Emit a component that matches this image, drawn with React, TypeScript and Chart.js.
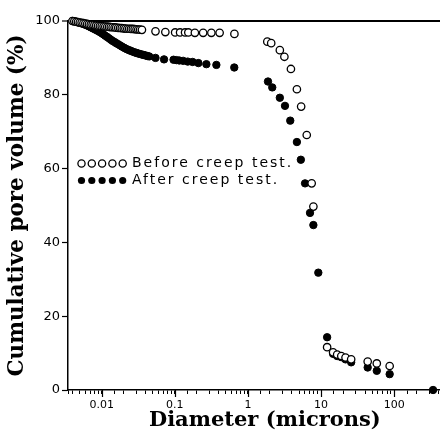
import React, { useEffect, useRef } from "react";
import { Chart, registerables } from "chart.js";

Chart.register(...registerables);

// Before creep test (open circles): diameter in microns, cumulative pore volume in %
const beforeDiameter = [
  0.00398, 0.00422, 0.00447, 0.00473, 0.00501, 0.00531, 0.00562, 0.00596, 0.00631, 0.00668,
  0.00708, 0.0075, 0.00794, 0.00841, 0.00891, 0.00944, 0.01, 0.0106, 0.0112, 0.0119,
  0.0126, 0.0133, 0.0141, 0.015, 0.0158, 0.0168, 0.0178, 0.0188, 0.02, 0.0211,
  0.0224, 0.0237, 0.0251, 0.0266, 0.0282, 0.0299, 0.0316, 0.0335, 0.0355,
  0.0544, 0.0742, 0.101, 0.118, 0.138, 0.153, 0.188, 0.244, 0.316, 0.41, 0.653,
  1.84, 2.08, 2.73, 3.15, 3.87, 4.67, 5.34, 6.37, 7.44, 7.85,
  12.1, 14.6, 16.6, 18.9, 21.6, 25.8, 43.4, 57.8, 86.7,
];
const beforeVolume = [
  100, 99.9, 99.8, 99.7, 99.6, 99.5, 99.4, 99.3, 99.2, 99.1,
  99.0, 98.95, 98.9, 98.8, 98.7, 98.65, 98.6, 98.55, 98.5, 98.45,
  98.4, 98.35, 98.3, 98.25, 98.2, 98.15, 98.1, 98.05, 98.0, 97.95,
  97.9, 97.9, 97.85, 97.85, 97.8, 97.75, 97.7, 97.65, 97.6,
  97.2, 97.0, 96.9, 96.9, 96.9, 96.9, 96.8, 96.8, 96.8, 96.8, 96.5,
  94.4, 94.0, 92.1, 90.3, 87.0, 81.5, 76.8, 69.1, 56.0, 49.7,
  11.6, 10.2, 9.6, 9.2, 8.8, 8.3, 7.7, 7.2, 6.5,
];

// After creep test (filled circles)
const afterDiameter = [
  0.00398, 0.00422, 0.00447, 0.00473, 0.00501, 0.00531, 0.00562, 0.00596, 0.00631, 0.00668,
  0.00708, 0.0075, 0.00794, 0.00841, 0.00891, 0.00944, 0.01, 0.0106, 0.0112, 0.0119,
  0.0126, 0.0133, 0.0141, 0.015, 0.0158, 0.0168, 0.0178, 0.0188, 0.02, 0.0211,
  0.0224, 0.0237, 0.0251, 0.0266, 0.0282, 0.0299, 0.0316, 0.0335, 0.0355, 0.0376,
  0.0398, 0.0422, 0.0447, 0.0544, 0.0712, 0.096, 0.105, 0.115, 0.13, 0.15, 0.175,
  0.21, 0.27, 0.37, 0.65, 1.88, 2.15, 2.73, 3.21, 3.79, 4.67, 5.29, 6.04,
  7.06, 7.85, 9.17, 12.1, 14.6, 16.6, 18.9, 21.6, 25.8, 43.4, 57.8, 86.7, 340,
];
const afterVolume = [
  100, 99.9, 99.8, 99.65, 99.5, 99.35, 99.2, 99.0, 98.8, 98.55,
  98.3, 98.05, 97.8, 97.55, 97.3, 97.0, 96.7, 96.35, 96.0, 95.65,
  95.3, 94.95, 94.6, 94.3, 94.0, 93.7, 93.4, 93.1, 92.8, 92.55,
  92.3, 92.1, 91.9, 91.7, 91.5, 91.35, 91.2, 91.05, 90.9, 90.8,
  90.65, 90.5, 90.4, 90.0, 89.6, 89.5, 89.4, 89.3, 89.2, 89.0, 88.9,
  88.6, 88.3, 88.1, 87.4, 83.6, 82.0, 79.2, 77.0, 73.0, 67.2, 62.4, 56.0,
  48.0, 44.7, 31.8, 14.3, 9.8, 9.2, 8.9, 8.3, 7.5, 6.1, 5.2, 4.3, 0,
];

const xTickLabels = [0.01, 0.1, 1, 10, 100];
const yTickValues = [0, 20, 40, 60, 80, 100];
const legendLabels = ["Before creep test.", "After creep test."];
const xTitle = "Diameter (microns)";
const yTitle = "Cumulative pore volume (%)";
const xRange = [0.00346, 838];
const yRange = [0, 100];

const isDecade = (v: number) => {
  const l = Math.log10(v);
  return Math.abs(l - Math.round(l)) < 1e-9;
};

const legendPlugin = {
  id: "customLegend",
  afterDraw(chart: any) {
    const ctx = chart.ctx;
    const left = chart.chartArea.left;
    ctx.save();
    const rows = [
      { y: 163.5, filled: false },
      { y: 180.5, filled: true },
    ];
    rows.forEach((r, i) => {
      for (let j = 0; j < 5; j++) {
        ctx.beginPath();
        ctx.arc(left + 13.5 + j * 10.3, r.y, 3.6, 0, Math.PI * 2);
        if (r.filled) {
          ctx.fillStyle = "#000";
          ctx.fill();
        } else {
          ctx.fillStyle = "#fff";
          ctx.fill();
          ctx.lineWidth = 1.3;
          ctx.strokeStyle = "#000";
          ctx.stroke();
        }
      }
      ctx.font = '14px "DejaVu Sans"';
      try {
        (ctx as any).letterSpacing = "2px";
      } catch (e) {}
      ctx.textBaseline = "middle";
      ctx.textAlign = "left";
      ctx.fillStyle = "#000";
      ctx.fillText(legendLabels[i], left + 64, r.y);
    });
    ctx.restore();
  },
};

const majorTickPlugin = {
  id: "majorTicks",
  afterDraw(chart: any) {
    const x = chart.scales.x;
    const ctx = chart.ctx;
    ctx.save();
    ctx.strokeStyle = "#000";
    ctx.lineWidth = 1.2;
    x.ticks.forEach((t: any) => {
      if (isDecade(t.value)) {
        const px = Math.round(x.getPixelForValue(t.value)) + 0.5;
        ctx.beginPath();
        ctx.moveTo(px, x.top);
        ctx.lineTo(px, x.top + 7);
        ctx.stroke();
      }
    });
    ctx.restore();
  },
};

export default function App() {
  const canvasRef = useRef<HTMLCanvasElement | null>(null);

  useEffect(() => {
    if (!canvasRef.current) return;
    const chart = new Chart(canvasRef.current, {
      type: "scatter",
      data: {
        datasets: [
          {
            label: legendLabels[0],
            data: beforeDiameter.map((d, i) => ({ x: d, y: beforeVolume[i] })),
            pointStyle: "circle",
            pointRadius: 3.7,
            pointBackgroundColor: "#fff",
            pointBorderColor: "#000",
            pointBorderWidth: 1.3,
            showLine: false,
            clip: false,
          },
          {
            label: legendLabels[1],
            data: afterDiameter.map((d, i) => ({ x: d, y: afterVolume[i] })),
            pointStyle: "circle",
            pointRadius: 3.7,
            pointBackgroundColor: "#000",
            pointBorderColor: "#000",
            pointBorderWidth: 1,
            showLine: false,
            clip: false,
          },
        ],
      },
      options: {
        animation: false,
        responsive: false,
        devicePixelRatio: 1,
        layout: { padding: { top: 21, right: 0, bottom: 0, left: 0 } },
        plugins: {
          legend: { display: false },
          tooltip: { enabled: false },
        },
        scales: {
          x: {
            type: "logarithmic",
            min: xRange[0],
            max: xRange[1],
            afterFit: (s: any) => {
              s.height = 43;
              s.paddingLeft = 0;
              s.paddingRight = 0;
            },
            border: { display: true, color: "#000", width: 1.5 },
            grid: {
              display: true,
              drawOnChartArea: false,
              tickLength: 4,
              tickColor: "#000",
              tickWidth: 1,
            },
            ticks: {
              autoSkip: false,
              maxRotation: 0,
              padding: 5,
              color: "#000",
              font: { family: '"DejaVu Sans"', size: 11 },
              callback: (v: any) => {
                const n = Number(v);
                return xTickLabels.some((t) => Math.abs(t - n) / t < 1e-6) ? String(n) : "";
              },
            },
            title: {
              display: true,
              text: xTitle,
              color: "#000",
              font: { family: '"DejaVu Serif"', size: 21, weight: "bold" },
              padding: { top: 0, bottom: 0 },
            },
          },
          y: {
            type: "linear",
            min: yRange[0],
            max: yRange[1],
            afterFit: (s: any) => {
              s.width = 68;
            },
            afterBuildTicks: (s: any) => {
              s.ticks = yTickValues.map((v) => ({ value: v }));
            },
            border: { display: true, color: "#000", width: 1.5 },
            grid: {
              display: true,
              drawOnChartArea: true,
              color: (c: any) => (c.tick && c.tick.value === 100 ? "#000" : "rgba(0,0,0,0)"),
              lineWidth: (c: any) => (c.tick && c.tick.value === 100 ? 2 : 1),
              tickColor: "#000",
              tickLength: 6,
              tickWidth: 1.2,
            },
            ticks: {
              padding: 2,
              color: "#000",
              font: { family: '"DejaVu Sans"', size: 13 },
            },
            title: {
              display: true,
              text: yTitle,
              color: "#000",
              font: { family: '"DejaVu Serif"', size: 21.5, weight: "bold" },
              padding: { top: 5, bottom: 0 },
            },
          },
        },
      },
      plugins: [legendPlugin, majorTickPlugin],
    });
    return () => chart.destroy();
  }, []);

  return (
    <div
      style={{
        position: "fixed",
        left: 0,
        top: 0,
        width: 440,
        height: 433,
        overflow: "hidden",
        background: "#fff",
      }}
    >
      <canvas ref={canvasRef} width={467} height={433} style={{ display: "block" }} />
    </div>
  );
}
